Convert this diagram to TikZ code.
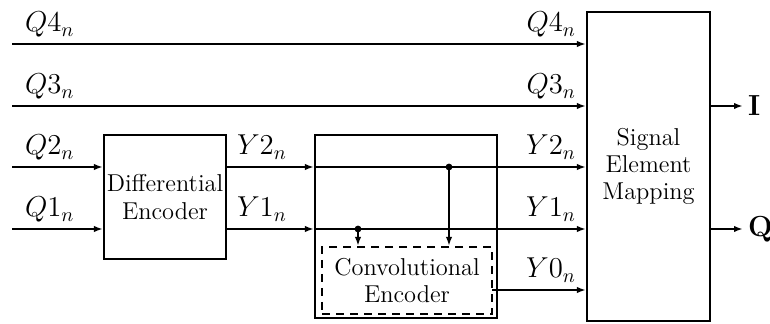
\documentclass[tikz,border=0pt]{standalone}
\usetikzlibrary{arrows.meta}
\begin{document}
\begin{tikzpicture}[x=0.5pt,y=-0.5pt,
  line width=1.05pt,
  arr/.style={-{Latex[length=4.5pt,width=3.2pt]}},
  blk/.style={draw,line width=1.05pt,inner sep=0pt,align=center,font=\fontsize{12.2}{13.6}\selectfont},
  lbl/.style={inner sep=0pt,font=\fontsize{14.5}{16}\selectfont},
  dot/.style={circle,fill,inner sep=0pt,minimum size=3.4pt}]
\useasboundingbox (0,0) rectangle (770,324);
% blocks
\node[blk,minimum width=61pt,minimum height=62pt] (diff) at (165,197) {Differential\\Encoder};
\node[blk,minimum width=91pt,minimum height=91.5pt] (outer) at (406,226.5) {};
\node[blk,dashed,dash pattern=on 4pt off 3pt,minimum width=85pt,minimum height=33.5pt] (conv) at (407,280.5) {Convolutional\\Encoder};
\node[blk,minimum width=61.5pt,minimum height=154.5pt] (sem) at (648.5,166.5) {Signal\\Element\\Mapping};
% input coordinates
\coordinate (q4) at (12,44);
\coordinate (q3) at (12,106);
\coordinate (q2) at (12,167);
\coordinate (q1) at (12,229);
\coordinate (y2) at (226,167);
\coordinate (y1) at (226,229);
\coordinate (y0) at (492,290);
\coordinate (io) at (710,106);
\coordinate (qo) at (710,229);
% lines
\draw[arr] (q4) -- (q4 -| sem.west);
\draw[arr] (q3) -- (q3 -| sem.west);
\draw[arr] (q2) -- (q2 -| diff.west);
\draw[arr] (q1) -- (q1 -| diff.west);
\draw[arr] (y2) -- (y2 -| outer.west);
\draw[arr] (y1) -- (y1 -| outer.west);
\draw[arr] (y2 -| outer.west) -- (y2 -| sem.west);
\draw[arr] (y1 -| outer.west) -- (y1 -| sem.west);
\draw[arr] (y0) -- (y0 -| sem.west);
% branches
\node[dot] (d2) at (449,167) {};
\node[dot] (d1) at (358,229) {};
\draw[arr] (d2.center) -- (d2 |- conv.north);
\draw[arr] (d1.center) -- (d1 |- conv.north);
% outputs
\draw[arr] (io) -- ++(33,0) node[right,inner sep=2pt,font=\fontsize{14.5}{16}\selectfont\bfseries] (I) {I};
\draw[arr] (qo) -- ++(33,0) node[right,inner sep=2pt,font=\fontsize{14.5}{16}\selectfont\bfseries] (Q) {Q};
% labels
\node[lbl,anchor=base west] (lq4) at (24,32) {$Q4_n$};
\node[lbl,anchor=base west] (lq3) at (24,94) {$Q3_n$};
\node[lbl,anchor=base west] (lq2) at (24,155) {$Q2_n$};
\node[lbl,anchor=base west] (lq1) at (24,217) {$Q1_n$};
\node[lbl,anchor=base west] (ly2a) at (236,155) {$Y2_n$};
\node[lbl,anchor=base west] (ly1a) at (236,217) {$Y1_n$};
\node[lbl,anchor=base east] (rq4) at (577,32) {$Q4_n$};
\node[lbl,anchor=base east] (rq3) at (577,94) {$Q3_n$};
\node[lbl,anchor=base east] (ry2) at (577,155) {$Y2_n$};
\node[lbl,anchor=base east] (ry1) at (577,217) {$Y1_n$};
\node[lbl,anchor=base east] (ry0) at (577,278) {$Y0_n$};
\end{tikzpicture}
\end{document}
